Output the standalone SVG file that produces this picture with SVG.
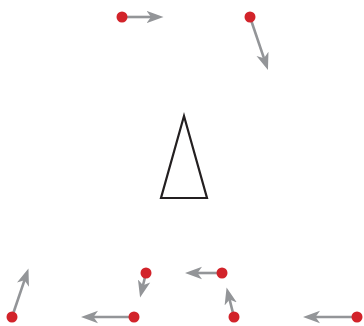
<svg xmlns="http://www.w3.org/2000/svg" width="364" height="326" viewBox="0 0 364 326">
<style>
.arr{stroke:#939598;stroke-width:2.6;fill:none;marker-end:url(#head)}
.dot{fill:#d2232a}
.tri{fill:none;stroke:#231f20;stroke-width:2.2;stroke-linejoin:miter}
</style>
<defs>
<marker id="head" markerUnits="userSpaceOnUse" markerWidth="20" markerHeight="16" viewBox="0 -8 20 16" refX="5" refY="0" orient="auto">
<path d="M0,-6.3 L17,0 L0,6.3 L4.5,0 Z" fill="#939598"/>
</marker>
</defs>
<rect width="364" height="326" fill="#fff"/>
<g id="connectors">
<line class="arr" x1="122" y1="17" x2="151.5" y2="17"/>
<line class="arr" x1="250" y1="17" x2="264.1" y2="58.6"/>
<line class="arr" x1="12" y1="317" x2="24.6" y2="279.9"/>
<line class="arr" x1="146" y1="273" x2="142.9" y2="285.8"/>
<line class="arr" x1="134" y1="317" x2="93" y2="317"/>
<line class="arr" x1="222" y1="273" x2="197" y2="273"/>
<line class="arr" x1="234" y1="317" x2="229.5" y2="299.1"/>
<line class="arr" x1="357" y1="317" x2="315" y2="317"/>
</g>
<g id="triangle"><polygon class="tri" points="184,116 161,198 207,198"/></g>
<g id="p1"><circle class="dot" cx="122" cy="17" r="5.5"/></g>
<g id="p2"><circle class="dot" cx="250" cy="17" r="5.5"/></g>
<g id="p3"><circle class="dot" cx="12" cy="317" r="5.5"/></g>
<g id="p4"><circle class="dot" cx="146" cy="273" r="5.5"/></g>
<g id="p5"><circle class="dot" cx="134" cy="317" r="5.5"/></g>
<g id="p6"><circle class="dot" cx="222" cy="273" r="5.5"/></g>
<g id="p7"><circle class="dot" cx="234" cy="317" r="5.5"/></g>
<g id="p8"><circle class="dot" cx="357" cy="317" r="5.5"/></g>
</svg>
